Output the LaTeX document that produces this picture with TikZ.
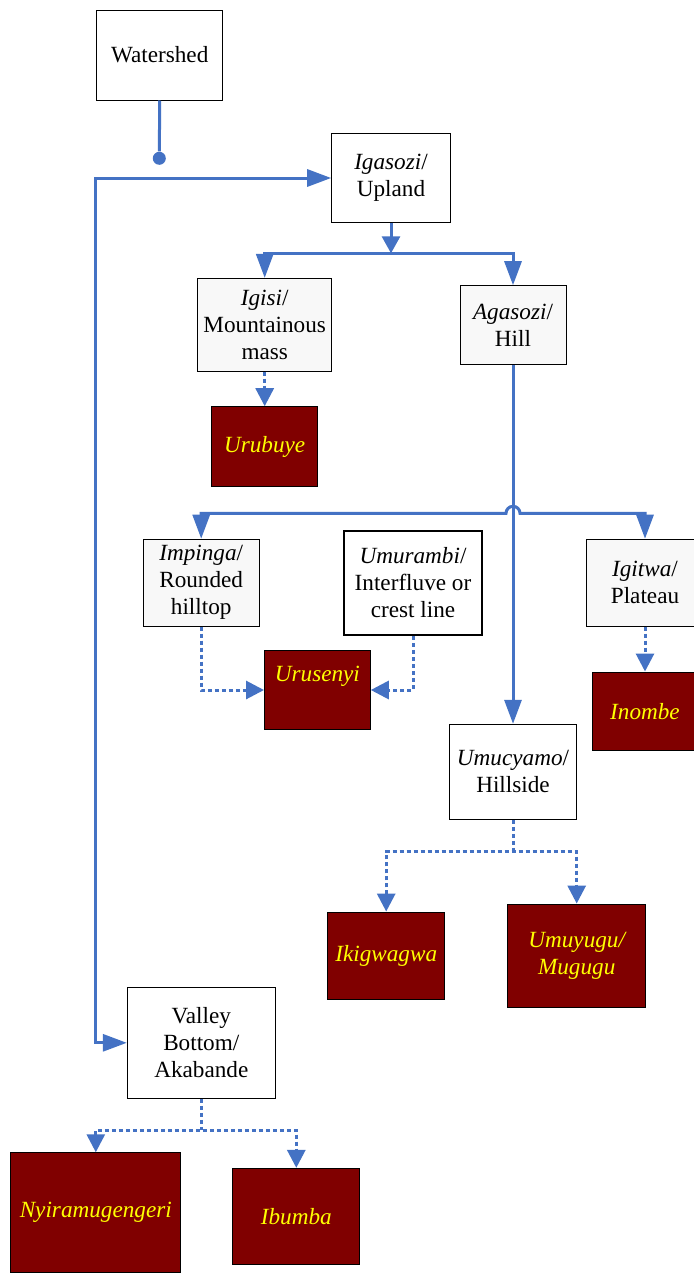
\documentclass[tikz,border=0pt]{standalone}
\usepackage{fontspec}
\setmainfont{Liberation Serif}
\usetikzlibrary{arrows.meta}
\definecolor{lineblue}{RGB}{68,114,196}
\definecolor{boxred}{RGB}{128,0,0}
\definecolor{txtyellow}{RGB}{255,255,0}
\definecolor{lightfill}{RGB}{248,248,248}
\begin{document}
\begin{tikzpicture}[x=0.5pt,y=-0.5pt,
  every node/.style={font=\fontsize{11.6}{13.5}\selectfont},
  wbox/.style={draw=black, line width=0.5pt, fill=white, align=center, inner sep=0pt},
  gbox/.style={wbox, fill=lightfill},
  rbox/.style={draw=black, line width=0.5pt, fill=boxred, text=txtyellow, align=center, inner sep=0pt, font=\fontsize{11.6}{13.5}\selectfont\itshape},
  sz/.style 2 args={minimum width=#1*0.5pt, minimum height=#2*0.5pt},
  solidline/.style={draw=lineblue, line width=1.5pt},
  dashline/.style={draw=lineblue, line width=1.5pt, dash pattern=on 2.2pt off 1.3pt},
  bigtip/.tip={Triangle[length=12pt,width=8.5pt]},
  midtip/.tip={Triangle[length=8.5pt,width=9pt]},
  smalltip/.tip={Triangle[length=9pt,width=9pt]}
]
\clip (0,0) rectangle (694,1274);
\fill[white] (0,0) rectangle (694,1274);

% nodes
\node[wbox, sz={126}{90}] (ws) at (159.7,55) {Watershed};
\node[wbox, sz={118.6}{88.3}] (igasozi) at (391,178) {\textit{Igasozi}/\\Upland};
\node[gbox, sz={134}{92.7}] (igisi) at (264.7,324.7) {\textit{Igisi}/\\Mountainous\\mass};
\node[gbox, sz={106}{79}] (agasozi) at (513,325.2) {\textit{Agasozi}/\\Hill};
\node[rbox, sz={106}{80}] (urubuye) at (264.7,446.7) {Urubuye};
\node[gbox, sz={116}{87}] (impinga) at (201.2,582.7) {\textit{Impinga}/\\Rounded\\hilltop};
\node[wbox, line width=1pt, sz={137.8}{104}] (umurambi) at (413,583) {\textit{Umurambi}/\\Interfluve or\\crest line};
\node[gbox, sz={116.6}{87}] (igitwa) at (645,582.7) {\textit{Igitwa}/\\Plateau};
\node[rbox, sz={105.8}{79.4}, label={[text=txtyellow, font=\fontsize{11.6}{13.5}\selectfont\itshape, yshift=7pt]center:Urusenyi}] (urusenyi) at (317.4,690) {};
\node[rbox, sz={105.6}{78.4}] (inombe) at (645,711.2) {Inombe};
\node[wbox, sz={127.4}{95}] (umucyamo) at (513,771.8) {\textit{Umucyamo}/\\Hillside};
\node[rbox, sz={117}{87.3}] (ikigwagwa) at (386.2,955.7) {Ikigwagwa};
\node[rbox, sz={138}{103.3}] (umuyugu) at (576.7,955.7) {Umuyugu/\\Mugugu};
\node[wbox, sz={148}{111}] (valley) at (201.3,1042.8) {Valley\\Bottom/\\Akabande};
\node[rbox, sz={169.7}{119.3}] (nyira) at (95.8,1212.4) {Nyiramugengeri};
\node[rbox, sz={127.3}{95.7}] (ibumba) at (296.3,1216.2) {Ibumba};

\node[circle, fill=lineblue, inner sep=0pt, minimum size=6.5pt] (dot) at (159.3,158.3) {};

% helper coordinates
\coordinate (lc) at (95,1042.8);
\coordinate (bar1) at (391,253.3);
\coordinate (hopL) at (506,513.3);
\coordinate (bar2) at (513,851.7);
\coordinate (bar3) at (201.3,1130);

% solid connectors
\draw[solidline] (ws.south) -- (dot);
\draw[solidline, bigtip-bigtip] (igasozi.west) -| (lc) -- (valley.west);
\draw[solidline, -midtip] (igasozi.south) -- (bar1);
\draw[solidline, bigtip-bigtip] (igisi.north) |- (bar1) -| (agasozi.north);
\draw[solidline, bigtip-bigtip] (impinga.north) |- (hopL) arc[start angle=180, end angle=0, radius=3.5pt] -| (igitwa.north);
\draw[solidline, -bigtip] (agasozi.south) -- (umucyamo.north);

% dashed connectors
\draw[dashline, -smalltip] (igisi.south) -- (urubuye.north);
\draw[dashline, -smalltip] (impinga.south) |- (urusenyi.west);
\draw[dashline, -smalltip] (umurambi.south) |- (urusenyi.east);
\draw[dashline, -smalltip] (igitwa.south) -- (inombe.north);
\draw[dashline] (umucyamo.south) -- (bar2);
\draw[dashline, smalltip-smalltip] (ikigwagwa.north) |- (bar2) -| (umuyugu.north);
\draw[dashline] (valley.south) -- (bar3);
\draw[dashline, smalltip-smalltip] (nyira.north) |- (bar3) -| (ibumba.north);
\end{tikzpicture}
\end{document}
